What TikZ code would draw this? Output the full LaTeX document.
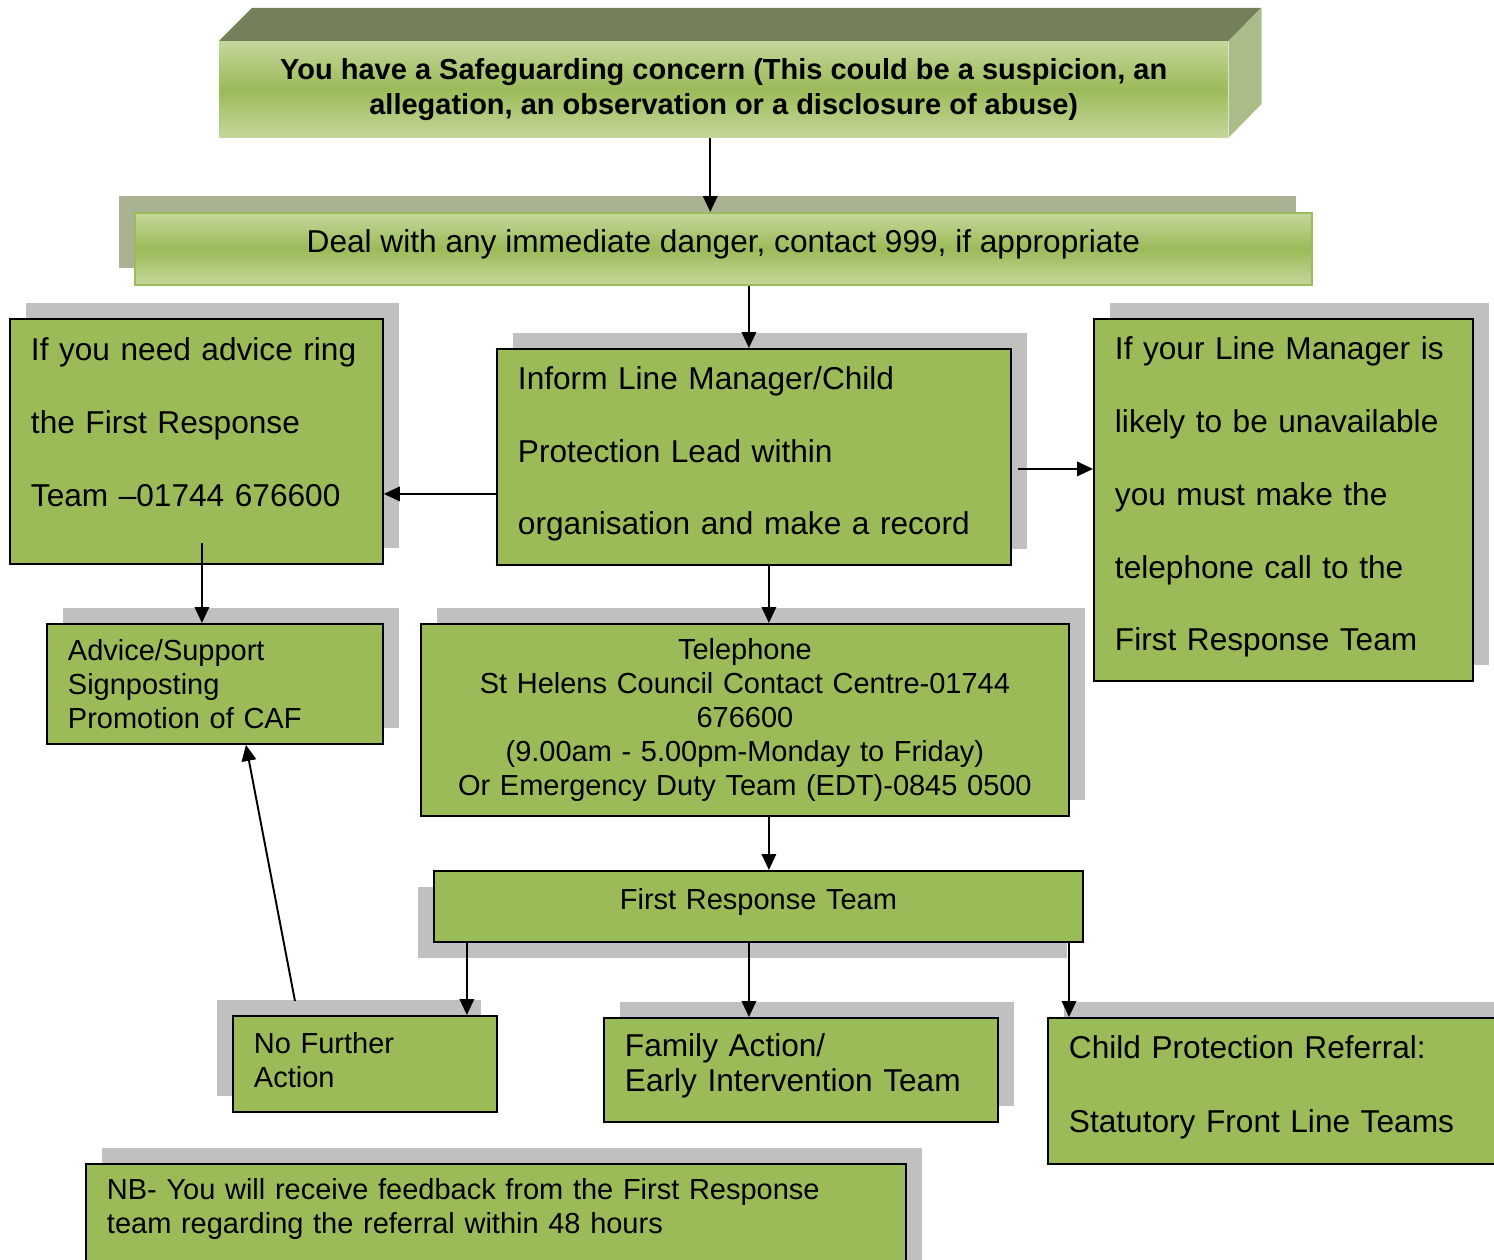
\documentclass[tikz,border=0pt]{standalone}
\usepackage{fontspec}
\setmainfont{Liberation Sans}
\usepackage{xcolor}
\usepackage{tikz}
\usetikzlibrary{arrows.meta, shadows}

\definecolor{boxgreen}{HTML}{9BBB59}
\definecolor{palegreen}{HTML}{C4D79B}
\definecolor{lidgreen}{HTML}{748059}
\definecolor{sidegreen}{HTML}{AABC88}
\definecolor{shadowgrey}{HTML}{C0C0C0}
\definecolor{mossgrey}{HTML}{A9B394}

% strut below the last line, lifts the text a little
\newcommand{\liftby}[1]{\rule[-#1]{0pt}{0pt}}

\begin{document}
\begin{tikzpicture}[
    x=0.02cm, y=-0.02cm,
    % Define the style for the green boxes
    box/.style={
        rectangle,
        draw=black,
        line width=1.1pt,
        fill=boxgreen,
        anchor=north west,
        align=left,
        inner xsep=0.42cm,
        inner ysep=0pt,
        font=\fontsize{18}{41.4}\selectfont
    },
    small/.style={font=\fontsize{16.5}{19.3}\selectfont},
    % Define the shaded look of the two top boxes
    glossy/.style={top color=palegreen, bottom color=palegreen, middle color=boxgreen},
    % Define the grey blocks behind the boxes
    upright/.style={drop shadow={shadow xshift=.32cm, shadow yshift=.32cm, fill=shadowgrey, opacity=1}},
    upleft/.style={drop shadow={shadow xshift=-.32cm, shadow yshift=.32cm, fill=shadowgrey, opacity=1}},
    downleft/.style={drop shadow={shadow xshift=-.32cm, shadow yshift=-.32cm, fill=shadowgrey, opacity=1}},
    mossy/.style={drop shadow={shadow xshift=-.32cm, shadow yshift=.34cm, fill=mossgrey, opacity=1}},
    % Define style for arrows
    arrow/.style={
        -{Triangle[length=.32cm, width=.29cm]},
        line width=1.1pt
    }
]
\useasboundingbox (0,0) rectangle (1494,1260);
\clip (0,0) rectangle (1494,1260);

% 1. Concern (3D block)
\node (concern) [glossy, anchor=north west, inner sep=0pt, align=center,
    minimum width=20.18cm, minimum height=1.92cm,
    font=\bfseries\fontsize{16.5}{19.8}\selectfont] at (219,41)
    {You have a Safeguarding concern (This could be a suspicion, an\\ allegation, an observation or a disclosure of abuse)};
\fill[lidgreen] (concern.north west) -- ++(33,-33) -- ++(1009,0) -- (concern.north east) -- cycle;
\fill[sidegreen] (concern.north east) -- ++(33,-33) -- ++(0,96) -- (concern.south east) -- cycle;

% 2. Immediate danger
\node (danger) [box, glossy, mossy, draw=boxgreen, align=center,
    minimum width=23.54cm, minimum height=1.44cm] at (134,212)
    {Deal with any immediate danger, contact 999, if appropriate\liftby{8.5pt}};

% 3. Advice / line manager / unavailable
\node (advice) [box, upright, minimum width=7.46cm, minimum height=4.90cm, text width=6.62cm] at (9,318)
    {If you need advice ring\\ the First Response\\ Team –01744 676600\liftby{22pt}};
\node (inform) [box, upright, minimum width=10.28cm, minimum height=4.32cm, text width=9.44cm] at (496,348)
    {Inform Line Manager/Child\\ Protection Lead within\\ organisation and make a record\liftby{7.2pt}};
\node (unavail) [box, upright, minimum width=7.58cm, minimum height=7.24cm, text width=6.74cm] at (1093,318)
    {If your Line Manager is\\ likely to be unavailable\\ you must make the\\ telephone call to the\\ First Response Team\liftby{6.8pt}};

% 4. Support and telephone
\node (support) [box, small, upright, minimum width=6.72cm, minimum height=2.40cm, text width=5.88cm] at (46,623)
    {Advice/Support\\ Signposting\\ Promotion of CAF};
\node (phone) [box, small, upright, align=center, minimum width=12.96cm, minimum height=3.84cm, text width=12.12cm] at (420,623)
    {Telephone\\ St Helens Council Contact Centre-01744\\ 676600\\ (9.00am - 5.00pm-Monday to Friday)\\ Or Emergency Duty Team (EDT)-0845 0500};

% 5. First Response Team
\node (frt) [box, small, downleft, align=center, minimum width=12.98cm, minimum height=1.42cm, text width=12.14cm] at (433,870)
    {First Response Team\liftby{9pt}};

% 6. Outcomes
\node (nfa) [box, small, upleft, minimum width=5.28cm, minimum height=1.92cm, text width=4.44cm] at (232,1015)
    {No Further\\ Action\liftby{4.5pt}};
\node (family) [box, upright, font=\fontsize{18}{19.8}\selectfont, minimum width=7.88cm, minimum height=2.08cm, text width=7.04cm] at (603,1017)
    {Family Action/\\ Early Intervention Team\liftby{8.3pt}};
\node (child) [box, upright, font=\fontsize{18}{42}\selectfont, minimum width=9.26cm, minimum height=2.92cm, text width=8.42cm] at (1047,1017)
    {Child Protection Referral:\\ Statutory Front Line Teams\liftby{8.3pt}};

% 7. Note
\node (nb) [box, small, upright, minimum width=16.40cm, minimum height=2.54cm, text width=15.56cm] at (85,1163)
    {NB- You will receive feedback from the First Response\\ team regarding the referral within 48 hours\liftby{24pt}};

% Arrows
\coordinate (concern out) at ([xshift=-.27cm]concern.south);
\draw [arrow] (concern out) -- (concern out |- danger.north);
\coordinate (inform in) at ([xshift=-.1cm]inform.north);
\draw [arrow] (inform in |- danger.south) -- (inform in);
\coordinate (left out) at ([yshift=-.74cm]inform.west);
\draw [arrow] (left out) -- (left out -| advice.east);
\coordinate (right out) at ([shift={(.12cm,-.24cm)}]inform.east);
\draw [arrow] (right out) -- (right out -| unavail.west);
\coordinate (advice out) at ([shift={(.11cm,.44cm)}]advice.south);
\draw [arrow] (advice out) -- (advice out |- support.north);
\coordinate (inform out) at ([xshift=.3cm]inform.south);
\draw [arrow] (inform out) -- (inform out |- phone.north);
\coordinate (phone out) at ([xshift=.48cm]phone.south);
\draw [arrow] (phone out) -- (phone out |- frt.north);
\coordinate (nfa in) at ([xshift=-.62cm]nfa.north east);
\draw [arrow] (nfa in |- frt.south) -- (nfa in);
\coordinate (family in) at ([xshift=-1.04cm]family.north);
\draw [arrow] (family in |- frt.south) -- (family in);
\coordinate (child in) at ([xshift=.44cm]child.north west);
\draw [arrow] (child in |- frt.south) -- (child in);
\coordinate (nfa out) at ([shift={(1.26cm,.28cm)}]nfa.north west);
\draw [arrow] (nfa out) -- ([xshift=.62cm]support.south);

\end{tikzpicture}
\end{document}
